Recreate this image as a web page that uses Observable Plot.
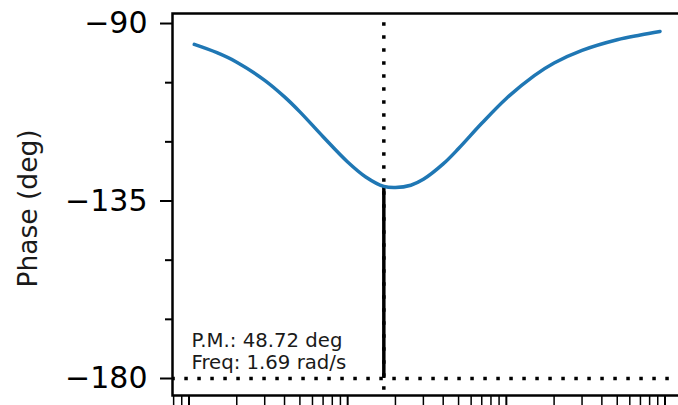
<!DOCTYPE html>
<html><head><meta charset="utf-8">
<script src="https://cdn.jsdelivr.net/npm/d3@7"></script>
<script src="https://cdn.jsdelivr.net/npm/@observablehq/plot@0.6"></script>
<style>html,body{margin:0;padding:0;overflow:hidden;background:#fff}</style>
</head><body><div id="chart"></div>
<script>
// Frequency (rad/s) and phase (deg)
const freq  = [0.108, 0.15, 0.2, 0.3, 0.4, 0.5, 0.7, 1, 1.3, 1.69, 2, 2.5, 3, 4, 5, 7, 10, 15, 20, 30, 50, 70, 93];
const phase = [-95.3, -97.4, -99.8, -104.4, -108.6, -112.4, -118.7, -125.1, -128.9, -131.3, -131.6, -131.0, -129.5, -125.6, -121.7, -115.3, -109.0, -103.2, -100.0, -96.8, -94.1, -92.9, -92.0];

const yMajorTicks = [-90, -135, -180];
const yTickLabels = ["−90", "−135", "−180"];
const yMinorTicks = [-105, -120, -150, -165];
const xMajorTicks = [0.1, 1, 10, 100];
const xMinorTicks = [0.08, 0.09, 0.2, 0.3, 0.4, 0.5, 0.6, 0.7, 0.8, 0.9, 2, 3, 4, 5, 6, 7, 8, 9, 20, 30, 40, 50, 60, 70, 80, 90];

const crossoverFreq = 1.69;
const phaseMargin = 48.72;
const phaseLimit = -180;
const annotation = ["P.M.: 48.72 deg", "Freq: 1.69 rad/s"];
const yLabel = "Phase (deg)";

const data = freq.map((f, i) => ({f, p: phase[i]}));
const labelMap = new Map(yMajorTicks.map((t, i) => [t, yTickLabels[i]]));

const chart = Plot.plot({
  width: 678, height: 405,
  marginLeft: 172, marginRight: -6, marginTop: 13, marginBottom: 10,
  style: {fontFamily: "DejaVu Sans", background: "white", color: "black"},
  x: {type: "log", domain: [0.0787, 132.7], axis: null},
  y: {domain: [-184.31, -87.46], axis: null},
  marks: [
    Plot.ruleX([crossoverFreq], {stroke: "black", strokeWidth: 3.5, strokeDasharray: "3.5,9.5", strokeDashoffset: 3.7}),
    Plot.ruleY([phaseLimit], {stroke: "black", strokeWidth: 3.5, strokeDasharray: "3.5,9.5", strokeDashoffset: 0.7}),
    Plot.ruleX([crossoverFreq], {y1: phaseLimit, y2: phaseLimit + phaseMargin, stroke: "black", strokeWidth: 3.5}),
    Plot.line(data, {x: "f", y: "p", stroke: "#1f77b4", strokeWidth: 3.5, curve: "catmull-rom"}),
    Plot.text([annotation.join("\n")], {frameAnchor: "bottom-left", dx: 19, dy: -27, textAnchor: "start", lineAnchor: "bottom", fontSize: 19.7, lineHeight: 1.08, fill: "#1a1a1a"}),
    Plot.text([yLabel], {frameAnchor: "left", rotate: -90, textAnchor: "middle", dx: -144, dy: 4, fontSize: 26.5, fill: "#1a1a1a"}),
    Plot.axisY(yMajorTicks, {tickSize: 12, tickPadding: 13, fontSize: 30, strokeWidth: 2, tickFormat: d => labelMap.get(d), label: null}),
    Plot.axisY(yMinorTicks, {tickSize: 7, strokeWidth: 2, tickFormat: () => "", label: null}),
    Plot.axisX(xMajorTicks, {tickSize: 10, strokeWidth: 2, tickFormat: () => "", label: null}),
    Plot.axisX(xMinorTicks, {tickSize: 10, strokeWidth: 1.5, tickFormat: () => "", label: null}),
    Plot.frame({stroke: "black", strokeWidth: 2.5})
  ]
});
document.getElementById("chart").append(chart);
</script>
</body></html>
